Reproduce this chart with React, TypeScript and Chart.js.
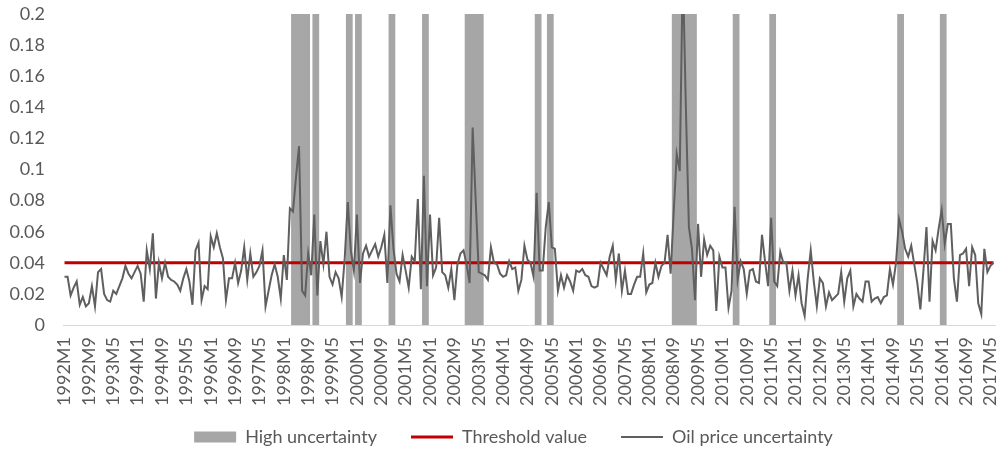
import { useEffect, useRef } from "react";
import { Chart, registerables } from "chart.js";

Chart.register(...registerables);

// Categories: monthly, 1992M1 .. 2017M6
const firstYear = 1992;
const monthCount = 306;
const monthLabels: string[] = Array.from(
  { length: monthCount },
  (_, i) => `${firstYear + Math.floor(i / 12)}M${(i % 12) + 1}`
);
const labelEvery = 8;

// Oil price uncertainty (monthly values)
const oilPriceUncertainty: number[] = [
  0.031, 0.031, 0.019, 0.024, 0.028, 0.013, 0.018, 0.012, 0.014, 0.025,
  0.012, 0.034, 0.036, 0.020, 0.016, 0.015, 0.022, 0.020, 0.025, 0.030,
  0.038, 0.033, 0.030, 0.034, 0.038, 0.033, 0.015, 0.048, 0.036, 0.059,
  0.017, 0.040, 0.030, 0.040, 0.031, 0.029, 0.028, 0.026, 0.022, 0.030,
  0.036, 0.028, 0.013, 0.048, 0.053, 0.016, 0.025, 0.023, 0.057, 0.050,
  0.059, 0.050, 0.043, 0.016, 0.030, 0.030, 0.040, 0.027, 0.035, 0.050,
  0.029, 0.046, 0.031, 0.034, 0.038, 0.048, 0.012, 0.022, 0.032, 0.039,
  0.031, 0.017, 0.045, 0.029, 0.075, 0.073, 0.095, 0.115, 0.022, 0.019,
  0.046, 0.032, 0.071, 0.019, 0.054, 0.039, 0.060, 0.031, 0.026, 0.034,
  0.030, 0.018, 0.043, 0.079, 0.048, 0.035, 0.071, 0.027, 0.046, 0.051,
  0.044, 0.048, 0.052, 0.044, 0.050, 0.058, 0.027, 0.077, 0.049, 0.033,
  0.028, 0.045, 0.035, 0.024, 0.044, 0.041, 0.081, 0.023, 0.096, 0.025,
  0.071, 0.032, 0.037, 0.069, 0.034, 0.032, 0.024, 0.036, 0.016, 0.039,
  0.046, 0.048, 0.039, 0.027, 0.127, 0.080, 0.034, 0.033, 0.032, 0.029,
  0.050, 0.040, 0.039, 0.033, 0.031, 0.032, 0.041, 0.036, 0.037, 0.022,
  0.029, 0.051, 0.042, 0.040, 0.031, 0.085, 0.035, 0.035, 0.063, 0.079,
  0.050, 0.049, 0.022, 0.032, 0.024, 0.032, 0.028, 0.022, 0.035, 0.034,
  0.036, 0.032, 0.031, 0.025, 0.024, 0.025, 0.040, 0.036, 0.032, 0.044,
  0.051, 0.029, 0.046, 0.022, 0.035, 0.020, 0.020, 0.026, 0.031, 0.031,
  0.046, 0.021, 0.026, 0.027, 0.040, 0.031, 0.038, 0.040, 0.058, 0.033,
  0.072, 0.110, 0.099, 0.230, 0.140, 0.063, 0.049, 0.016, 0.065, 0.031,
  0.055, 0.045, 0.051, 0.048, 0.009, 0.044, 0.037, 0.037, 0.011, 0.022,
  0.076, 0.029, 0.041, 0.036, 0.020, 0.035, 0.036, 0.028, 0.027, 0.058,
  0.041, 0.025, 0.069, 0.028, 0.025, 0.047, 0.040, 0.040, 0.022, 0.035,
  0.019, 0.032, 0.014, 0.006, 0.030, 0.048, 0.028, 0.012, 0.030, 0.027,
  0.012, 0.021, 0.016, 0.018, 0.020, 0.034, 0.015, 0.030, 0.035, 0.012,
  0.020, 0.017, 0.015, 0.028, 0.028, 0.015, 0.017, 0.018, 0.014, 0.018,
  0.019, 0.036, 0.026, 0.040, 0.068, 0.060, 0.049, 0.044, 0.051, 0.039,
  0.027, 0.010, 0.035, 0.063, 0.015, 0.054, 0.048, 0.062, 0.074, 0.052,
  0.065, 0.065, 0.030, 0.015, 0.045, 0.046, 0.049, 0.025, 0.050, 0.045,
  0.014, 0.007, 0.049, 0.034, 0.038, 0.040,
];

const thresholdValue = 0.04;

// High uncertainty periods (first month, last month)
const highUncertaintyPeriods: [string, string][] = [
  ["1998M4", "1998M9"],
  ["1998M11", "1998M12"],
  ["1999M10", "1999M11"],
  ["2000M1", "2000M2"],
  ["2000M12", "2001M1"],
  ["2001M11", "2001M12"],
  ["2003M1", "2003M6"],
  ["2004M12", "2005M1"],
  ["2005M4", "2005M5"],
  ["2008M9", "2009M4"],
  ["2010M5", "2010M6"],
  ["2011M5", "2011M6"],
  ["2014M11", "2014M12"],
  ["2016M1", "2016M2"],
];
const shadeHeight = 0.2;

const yMin = 0;
const yMax = 0.2;
const yStep = 0.02;

const highUncertaintyBars: (number | null)[] = monthLabels.map((_, i) => {
  for (const [a, b] of highUncertaintyPeriods) {
    const s = monthLabels.indexOf(a);
    const e = monthLabels.indexOf(b);
    if (i >= s && i <= e) return shadeHeight;
  }
  return null;
});
const thresholdLine: number[] = monthLabels.map(() => thresholdValue);

const FONT = "Lato, 'Open Sans', sans-serif";
const TEXT = "#595959";
const FONT_SIZE = 18;

// keep rotated tick labels (which overlap the legend band) from being clipped
const unclipLabels = {
  id: "unclipLabels",
  afterLayout(chart: any) {
    chart.scales.x.bottom = chart.height;
    chart.scales.y.left = 0;
  },
};

export default function App() {
  const ref = useRef<HTMLCanvasElement | null>(null);

  useEffect(() => {
    document.body.style.margin = "0";
    const chart = new Chart(ref.current as HTMLCanvasElement, {
      type: "bar",
      data: {
        labels: monthLabels,
        datasets: [
          {
            type: "bar",
            label: "High uncertainty",
            data: highUncertaintyBars,
            backgroundColor: "#A6A6A6",
            borderWidth: 0,
            barPercentage: 1,
            categoryPercentage: 1,
            order: 3,
            pointStyle: "rect",
          } as any,
          {
            type: "line",
            label: "Threshold value",
            data: thresholdLine,
            borderColor: "#C00000",
            backgroundColor: "#C00000",
            borderWidth: 3,
            pointRadius: 0,
            tension: 0,
            order: 2,
            pointStyle: "line",
          },
          {
            type: "line",
            label: "Oil price uncertainty",
            data: oilPriceUncertainty,
            borderColor: "#5F5F5F",
            backgroundColor: "#5F5F5F",
            borderWidth: 2,
            pointRadius: 0,
            tension: 0,
            order: 1,
            pointStyle: "line",
          },
        ],
      },
      plugins: [unclipLabels],
      options: {
        animation: false,
        responsive: true,
        maintainAspectRatio: false,
        layout: { padding: { left: 32, right: 5, top: 14, bottom: 0 } },
        plugins: {
          tooltip: { enabled: false },
          legend: {
            position: "bottom",
            maxHeight: 56,
            labels: {
              usePointStyle: true,
              pointStyleWidth: 42,
              boxHeight: 11,
              padding: 34,
              color: TEXT,
              font: { family: FONT, size: FONT_SIZE },
              sort: (a: any, b: any) => a.datasetIndex - b.datasetIndex,
            },
          },
        },
        scales: {
          x: {
            type: "category",
            offset: true,
            grid: { display: false, drawTicks: false },
            border: { display: true, color: "#D9D9D9", width: 1 },
            ticks: {
              autoSkip: false,
              minRotation: 90,
              maxRotation: 90,
              padding: 12,
              color: TEXT,
              font: { family: FONT, size: FONT_SIZE },
              callback: (_v: any, i: number) =>
                i % labelEvery === 0 ? monthLabels[i] : "",
            },
            afterFit: (s: any) => {
              s.height = 69;
              s.paddingLeft = 0;
              s.paddingRight = 0;
            },
          },
          y: {
            min: yMin,
            max: yMax,
            grid: { display: false, drawTicks: false },
            border: { display: false },
            ticks: {
              stepSize: yStep,
              padding: 18,
              color: TEXT,
              font: { family: FONT, size: FONT_SIZE },
              callback: (v: any) => String(parseFloat(Number(v).toFixed(2))),
            },
            afterFit: (s: any) => {
              s.width = 31;
              s.paddingTop = 0;
              s.paddingBottom = 0;
            },
          },
        },
      },
    });
    return () => chart.destroy();
  }, []);

  return (
    <div style={{ width: 1000, height: 450, position: "relative" }}>
      <canvas ref={ref} />
    </div>
  );
}
